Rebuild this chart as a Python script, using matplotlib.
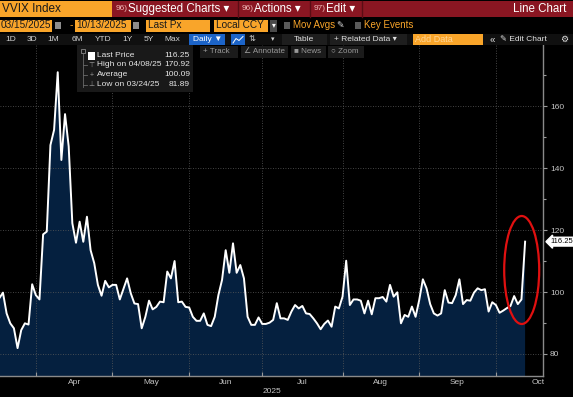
import matplotlib
matplotlib.use("Agg")
import matplotlib.pyplot as plt
from matplotlib.patches import Rectangle, Ellipse
import numpy as np
import pandas as pd

plt.rcParams['font.family'] = ['Liberation Sans', 'DejaVu Sans']

# trading days shown (CBOE holidays removed)
holidays = ['2025-04-18', '2025-05-26', '2025-06-19', '2025-07-04', '2025-09-01']
dates = pd.bdate_range('2025-03-17', '2025-10-10', freq='C', holidays=holidays)
# used only to find where October ends for the label position
axis_days = pd.bdate_range('2025-03-17', '2025-10-31', freq='C', holidays=holidays)

vvix = [
    98.0, 99.8, 93.1, 89.9, 88.3, 81.89, 87.7, 89.9, 89.5, 102.5,
    99.0, 97.6, 118.6, 119.5, 147.4, 152.3, 170.92, 142.6, 157.4, 147.0,
    122.2, 115.9, 122.7, 116.2, 124.3, 113.5, 109.3, 102.3, 98.8, 103.6,
    101.5, 102.3, 102.3, 97.6, 101.0, 104.4, 99.6, 96.3, 96.1, 88.3,
    92.0, 97.2, 94.4, 95.2, 96.9, 96.7, 106.6, 104.4, 110.0, 96.7,
    96.9, 95.2, 95.0,
    92.0, 90.7, 90.7, 93.1, 89.4, 89.0, 92.0, 99.0, 103.9, 113.5,
    106.2, 115.7, 106.2, 108.7, 104.4, 92.0, 89.4, 89.4, 91.8, 89.7,
    89.7, 90.1, 91.0, 96.4, 91.5, 91.5, 91.0, 93.7, 95.8, 94.7,
    95.5, 93.1, 92.9, 91.5, 89.9, 88.0, 89.7, 90.8, 88.8, 95.3,
    94.7, 98.5, 110.1, 95.8, 97.6, 97.6, 97.2, 93.1, 97.2, 92.8,
    98.0, 98.0, 98.4, 96.9, 102.3, 98.5, 99.9, 89.9, 92.6, 92.0,
    95.3, 92.0, 97.4, 104.1, 101.2, 96.1, 93.1, 92.4, 93.1, 100.6,
    96.6, 96.4, 99.0, 104.1, 96.1, 97.4, 97.2, 99.8, 101.2, 100.6,
    100.9, 93.7, 96.7, 95.8, 93.3, 94.0, 94.8, 95.5, 98.7, 96.1,
    97.6, 116.25,
]

month_names = ['Apr', 'May', 'Jun', 'Jul', 'Aug', 'Sep', 'Oct']
y_major = [80, 100, 120, 140, 160]
y_minor = [90, 110, 130, 150, 170]
last_price = 116.25

legend_labels = ['Last Price', 'High on 04/08/25', 'Average', 'Low on 03/24/25']
legend_values = ['116.25', '170.92', '100.09', '81.89']

x = np.arange(len(dates))

# month boundaries on the trading-day axis
month_num = axis_days.month.values
starts = [int(np.argmax(month_num == m)) for m in range(4, 11)] + [len(axis_days)]
bounds = [s - 1 for s in starts]
centers = [(a + b) / 2 for a, b in zip(bounds[:-1], bounds[1:])]

fig = plt.figure(figsize=(5.73, 3.97), dpi=100, facecolor='black')
ax = fig.add_axes([0, 21 / 397, 543 / 573, 331 / 397])
ax.set_facecolor('black')

ax.fill_between(x, vvix, 0, color='#05203f', lw=0, zorder=1)
ax.plot(x, vvix, color='white', lw=1.4, zorder=3)

ax.set_xlim(0.19, 148.9)
ax.set_ylim(72.9, 179.7)

ax.yaxis.tick_right()
ax.set_yticks(y_major)
ax.set_yticks(y_minor, minor=True)
ax.tick_params(axis='y', which='both', colors='#9a9a9a', labelcolor='#c4c4c4',
               direction='out', length=3, width=0.8, labelsize=6, pad=2)
ax.tick_params(axis='y', which='minor', length=2)

ax.set_xticks(bounds[:-1])
ax.set_xticklabels([])
ax.set_xticks(centers, minor=True)
ax.set_xticklabels(month_names, minor=True)
ax.tick_params(axis='x', which='major', direction='in', length=3, colors='#9a9a9a')
ax.tick_params(axis='x', which='minor', length=0, labelsize=6,
               labelcolor='#c4c4c4', pad=2.5)
ax.text(0.5, -0.046, '2025', transform=ax.transAxes, ha='center', va='center',
        fontsize=6, color='#c4c4c4')

ax.grid(True, which='major', color='#5a5a5a', lw=0.6, ls=(0, (1, 2)))
ax.set_axisbelow(False)
for side in ['top', 'left']:
    ax.spines[side].set_visible(False)
for side in ['right', 'bottom']:
    ax.spines[side].set_color('#8a8a8a')
    ax.spines[side].set_linewidth(1.0)

ax.text(1.014, last_price, f'{last_price:.2f}', transform=ax.get_yaxis_transform(),
        ha='left', va='center', fontsize=5.5, color='black',
        bbox=dict(boxstyle='larrow,pad=0.12', fc='white', ec='white'))

# overlay in pixel units for the terminal header and the markup
ov = fig.add_axes([0, 0, 1, 1], zorder=5)
ov.set_xlim(0, 573)
ov.set_ylim(397, 0)
ov.axis('off')
ov.patch.set_alpha(0)


def box(x0, y0, x1, y1, color):
    ov.add_patch(Rectangle((x0, y0), x1 - x0, y1 - y0, fc=color, ec='none', lw=0))


def txt(xp, yp, s, size, color, ha='left', **kw):
    ov.text(xp, yp, s, fontsize=size, color=color, ha=ha, va='center', **kw)


orange = '#f9a52a'
# row 1
box(0, 1, 112, 16.5, orange)
txt(2, 9, 'VVIX Index', 8.5, '#1a1a1a')
box(112, 1, 573, 16.5, '#8a1622')
for xs in [238, 310, 362]:
    ov.plot([xs, xs], [1, 16.5], color='#5a0c14', lw=1)
for xs, num, lab in [(116, '96)', 'Suggested Charts ▾'), (242, '96)', 'Actions ▾'),
                     (314, '97)', 'Edit ▾')]:
    txt(xs, 9, num, 6, '#f0b8b8')
    txt(xs + 12, 9, lab, 8.3, 'white')
txt(566, 9, 'Line Chart', 8.3, 'white', ha='right')

# row 2
box(0, 19.5, 52, 31.5, orange)
txt(1, 25.5, '03/15/2025', 7.2, '#1a1a1a')
box(55, 22, 61, 29, '#8c8c8c')
txt(71, 25.5, '-', 7.5, orange, ha='center')
box(75, 19.5, 131, 31.5, orange)
txt(76, 25.5, '10/13/2025', 7.2, '#1a1a1a')
box(133, 22, 139, 29, '#8c8c8c')
box(146, 19.5, 210, 31.5, orange)
txt(148, 25.5, 'Last Px', 7.2, '#1a1a1a')
box(214, 19.5, 268, 31.5, orange)
txt(216, 25.5, 'Local CCY', 7.2, '#1a1a1a')
box(270, 19.5, 277, 31.5, '#4a4a4a')
txt(273.5, 25.5, '▾', 5.5, 'white', ha='center')
box(284, 22, 290, 28.5, '#5a5a5a')
txt(293, 25.5, 'Mov Avgs', 7, orange)
txt(340, 25.5, '✎', 6.5, '#dddddd', ha='center')
box(355, 22, 361, 28.5, '#5a5a5a')
txt(364, 25.5, 'Key Events', 7, orange)

# row 3
box(0, 33.5, 573, 45, '#101010')
for xc, lab in zip([11, 32, 53, 77, 103, 127, 149, 172],
                   ['1D', '3D', '1M', '6M', 'YTD', '1Y', '5Y', 'Max']):
    txt(xc, 39.5, lab, 6, '#cfcfcf', ha='center')
box(189, 34, 225, 45, '#1c64c8')
txt(193, 39.5, 'Daily ▼', 6, 'white')
box(231, 34, 245, 45, '#1c64c8')
ov.plot([233, 236, 239, 243], [43, 38.5, 40.5, 36.5], color='white', lw=0.7)
txt(252, 39.5, '⇅', 6, '#cfcfcf', ha='center')
txt(273, 39.5, '▾', 5, '#cfcfcf', ha='center')
box(282, 34, 327, 45, '#1e1e1e')
txt(304, 39.5, 'Table', 6, '#e0e0e0', ha='center')
box(330, 34, 407, 45, '#1e1e1e')
txt(334, 39.5, '+ Related Data ▾', 6, '#e0e0e0')
box(413, 34, 483, 45, orange)
txt(415, 39.5, 'Add Data', 6.5, '#ffd596')
txt(492, 39.5, '«', 7, '#e0e0e0', ha='center')
txt(500, 39.5, '✎ Edit Chart', 6, '#e0e0e0')
txt(564, 39.5, '⚙', 6.5, '#e0e0e0', ha='center')

# row 4 chart tools
for x0, x1, lab in [(200, 238, '+ Track'), (241, 288, '∠ Annotate'),
                    (291, 326, '■ News'), (328, 364, '○ Zoom')]:
    box(x0, 46, x1, 57.5, '#1b1b1b')
    txt(x0 + 3, 51.5, lab, 5.8, '#9a9a9a')

# legend panel
box(77, 45, 193, 92, '#191919')
ov.plot([83, 83], [54, 87], color='#6a6a6a', lw=0.6)
ov.add_patch(Rectangle((81, 48.5), 4, 4, fc='none', ec='#8a8a8a', lw=0.6))
box(88, 51.5, 95, 59.5, 'white')
row_y = [55.5, 65, 75, 84.5]
for sym, yy in zip(['', '⊤', '+', '⊥'], row_y):
    if sym:
        ov.plot([83, 87], [yy, yy], color='#6a6a6a', lw=0.6)
        txt(91.5, yy, sym, 5, '#9a9a9a', ha='center')
for lab, val, yy in zip(legend_labels, legend_values, row_y):
    txt(97, yy, lab, 6, '#e6e6e6')
    txt(190, yy, val, 6, '#e6e6e6', ha='right')

# red circle around the last jump
ov.add_patch(Ellipse((521.7, 270), 35, 108, fill=False, ec='#e01010', lw=1.6))

fig.savefig('out.png', dpi=100, facecolor='black')
